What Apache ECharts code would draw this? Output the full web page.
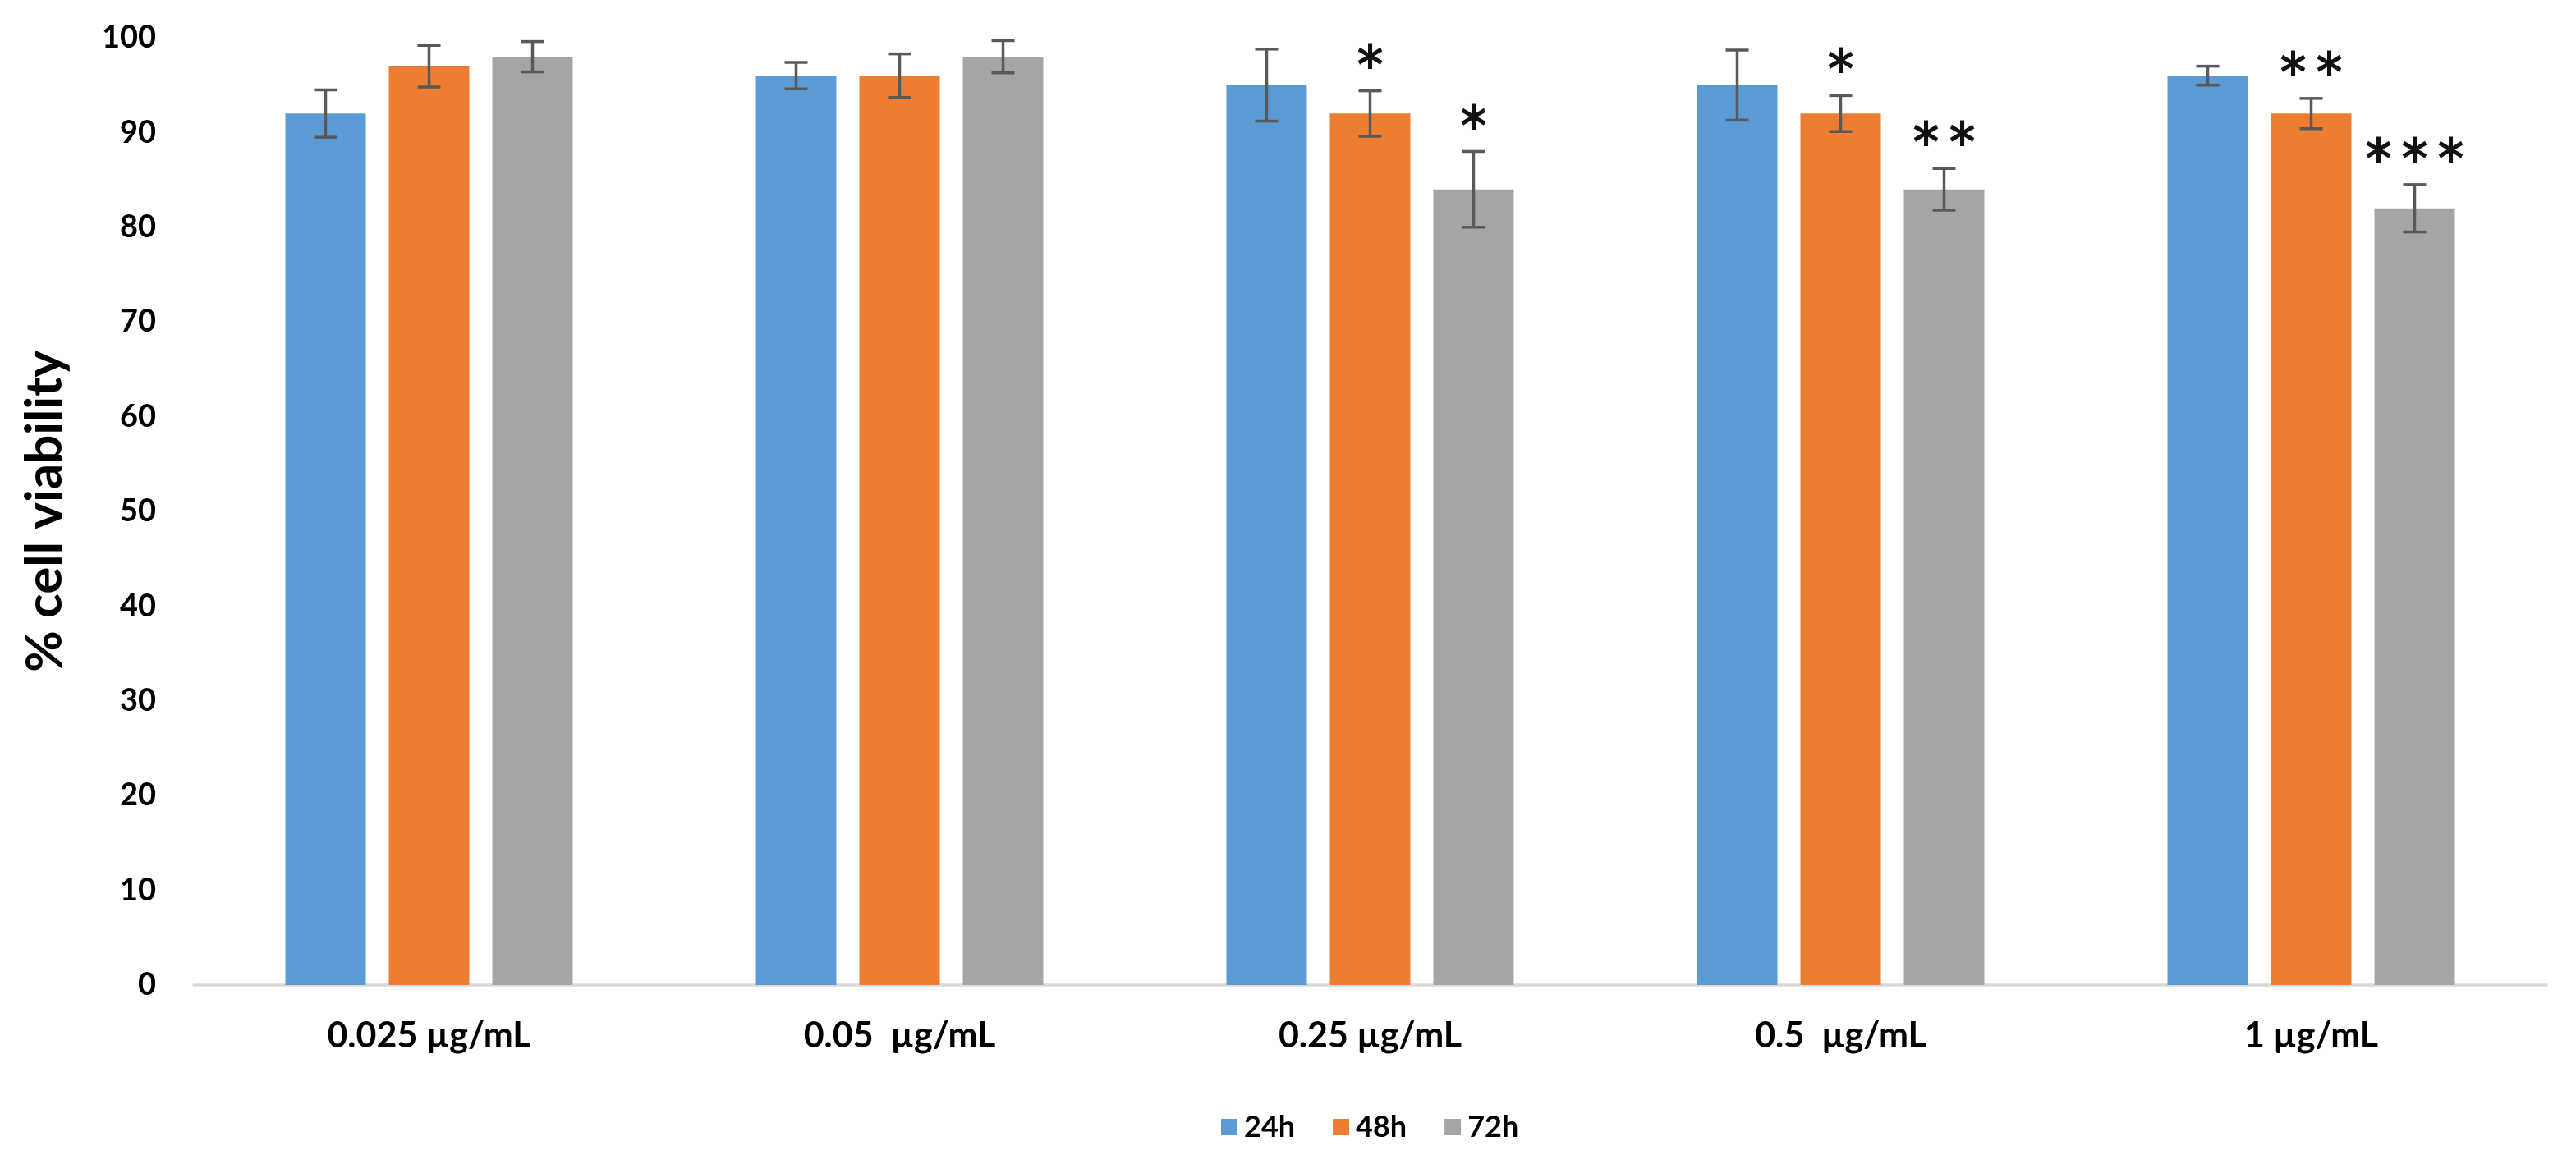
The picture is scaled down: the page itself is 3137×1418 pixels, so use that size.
<!DOCTYPE html>
<html>
<head>
<meta charset="utf-8">
<script src="https://cdn.jsdelivr.net/npm/echarts@6/dist/echarts.min.js"></script>
<style>html,body{margin:0;padding:0;background:#fff;}#c{width:3137px;height:1418px;}</style>
</head>
<body>
<div id="c"></div>
<script>
const categories = ['0.025 µg/mL', '0.05  µg/mL', '0.25 µg/mL', '0.5  µg/mL', '1 µg/mL'];
const seriesNames = ['24h', '48h', '72h'];
const means24 = [92, 96, 95, 95, 96];
const means48 = [97, 96, 92, 92, 92];
const means72 = [98, 98, 84, 84, 82];
const err24 = [2.5, 1.4, 3.8, 3.7, 1.0];
const err48 = [2.2, 2.3, 2.4, 1.9, 1.6];
const err72 = [1.6, 1.7, 4.0, 2.2, 2.5];
const stars24 = ['', '', '', '', ''];
const stars48 = ['', '', '*', '*', '**'];
const stars72 = ['', '', '*', '**', '***'];
const yTicks = [0, 10, 20, 30, 40, 50, 60, 70, 80, 90, 100];

const colors = ['#5B9BD5', '#ED7D31', '#A5A5A5'];
const FONT = 'Lato';
const BAR_W = 98;
const BAR_GAP = 28;
const STAR_FS = 68;
const STAR_PITCH = 44;

const means = [means24, means48, means72];
const errs = [err24, err48, err72];
const stars = [stars24, stars48, stars72];

const chart = echarts.init(document.getElementById('c'), null, {renderer: 'canvas'});

const barSeries = seriesNames.map((name, j) => ({
  name: name,
  type: 'bar',
  data: means[j],
  barWidth: BAR_W,
  barGap: (BAR_GAP / BAR_W * 100) + '%',
  itemStyle: {color: colors[j]},
  z: 2
}));

const errSeries = seriesNames.map((name, j) => ({
  name: name + '_err',
  type: 'custom',
  z: 5,
  data: categories.map((c, i) => [i, means[j][i], errs[j][i]]),
  encode: {x: 0, y: 1},
  renderItem: function (params, api) {
    const i = api.value(0);
    const m = api.value(1);
    const e = api.value(2);
    const s = stars[j][i];
    const top = api.coord([i, m + e]);
    const bot = api.coord([i, m - e]);
    const x = top[0] + (j - 1) * (BAR_W + BAR_GAP);
    const cap = 14;
    const st = {stroke: '#595959', lineWidth: 3.5};
    const children = [
      {type: 'line', shape: {x1: x, y1: top[1], x2: x, y2: bot[1]}, style: st},
      {type: 'line', shape: {x1: x - cap, y1: top[1], x2: x + cap, y2: top[1]}, style: st},
      {type: 'line', shape: {x1: x - cap, y1: bot[1], x2: x + cap, y2: bot[1]}, style: st}
    ];
    const n = s.length;
    for (let k = 0; k < n; k++) {
      children.push({
        type: 'text',
        style: {
          text: s[k],
          x: x + (k - (n - 1) / 2) * STAR_PITCH,
          y: top[1] - 46 + 0.8 * STAR_FS,
          align: 'center',
          verticalAlign: 'bottom',
          fill: '#111',
          font: 'bold ' + STAR_FS + 'px "DejaVu Sans Condensed", "DejaVu Sans"'
        }
      });
    }
    return {type: 'group', children: children};
  }
}));

chart.setOption({
  animation: false,
  backgroundColor: '#ffffff',
  grid: {left: 236, right: 36, top: 46, bottom: 218, containLabel: false},
  legend: {
    data: seriesNames,
    top: 1350,
    left: 1482,
    itemWidth: 20,
    itemHeight: 20,
    itemGap: 46,
    icon: 'rect',
    textStyle: {fontFamily: FONT, fontWeight: 'bold', fontSize: 36, color: '#000', padding: [0, 0, 0, 3]}
  },
  xAxis: {
    type: 'category',
    data: categories,
    axisLine: {show: true, lineStyle: {color: '#D9D9D9', width: 3.5}},
    axisTick: {show: false},
    axisLabel: {fontFamily: FONT, fontWeight: 'bold', fontSize: 43, color: '#000', margin: 41}
  },
  yAxis: {
    type: 'value',
    min: 0,
    max: 100,
    interval: 10,
    name: '% cell viability',
    nameLocation: 'middle',
    nameGap: 150,
    nameTextStyle: {fontFamily: FONT, fontWeight: 'bold', fontSize: 62, color: '#000'},
    axisLine: {show: false},
    axisTick: {show: false},
    splitLine: {show: false},
    axisLabel: {
      fontFamily: FONT, fontWeight: 'bold', fontSize: 38, color: '#000', margin: 46,
      formatter: function (v) { return yTicks.indexOf(v) >= 0 ? String(v) : ''; }
    }
  },
  series: barSeries.concat(errSeries)
});
</script>
</body>
</html>
